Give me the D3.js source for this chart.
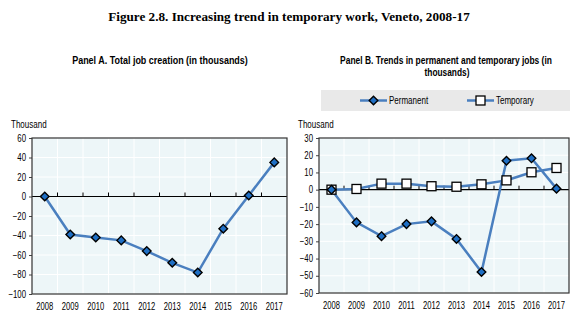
<!DOCTYPE html>
<meta charset="utf-8">
<script src="https://d3js.org/d3.v7.min.js"></script>
<style>
  body { margin: 0; background: #fff; }
  text { font-family: "Liberation Sans", Arial, sans-serif; fill: #000; }
</style>
<div id="chart"></div>
<script>

// years on the x axis
var years = ["2008", "2009", "2010", "2011", "2012", "2013", "2014", "2015", "2016", "2017"];

// Panel A: total job creation, thousands
var totalJobs = [0, -39, -42, -45, -56, -68, -78, -33, 1, 35];

// Panel B: permanent and temporary jobs, thousands
var permanent = [0, -19, -27, -20, -18.4, -28.6, -47.8, 16.8, 18.2, 0.6];
var temporary = [0, 0.4, 3.5, 3.5, 2, 1.7, 3.1, 5.4, 10.1, 12.6];

var ticksA = [60, 40, 20, 0, -20, -40, -60, -80, -100];
var ticksB = [30, 20, 10, 0, -10, -20, -30, -40, -50, -60];

var lineColor = "#4a7fbf",
    diamondFill = "#1f6fc4",
    plotFill = "#edf6f8";

var svg = d3.select("#chart")
  .append("svg")
    .attr("width", 588)
    .attr("height", 323);

// squeeze text horizontally, like a narrow font
function narrow(sel, k) {
  sel.each(function() {
    var w = this.getComputedTextLength();
    d3.select(this)
      .attr("textLength", w * (k || 0.8))
      .attr("lengthAdjust", "spacingAndGlyphs");
  });
}

// centred bold title, scaled horizontally to the given width
function title(x, y, width, size, txt) {
  var g = svg.append("g");
  var t = g.append("text")
    .attr("text-anchor", "middle")
    .style("font-weight", "bold")
    .style("font-size", size + "px")
    .text(txt);
  return {g: g, t: t, fit: function() {
    var k = width / t.node().getComputedTextLength();
    g.attr("transform", "translate(" + x + "," + y + ") scale(" + k + ",1)");
  }};
}

// main title
var main = title(289, 21, 362, 13.5, "Figure 2.8. Increasing trend in temporary work, Veneto, 2008-17");
main.t.style("font-family", "'Liberation Serif', 'Times New Roman', serif");
main.fit();

// panel titles
title(160, 64, 176, 11, "Panel A. Total job creation (in thousands)").fit();
title(446, 64, 212, 11, "Panel B. Trends in permanent and temporary jobs (in").fit();
title(447, 76, 45, 11, "thousands)").fit();

function diamond(g, cx, cy) {
  var r = 4.3;
  g.append("path")
    .attr("d", "M0," + (-r) + "L" + r + ",0L0," + r + "L" + (-r) + ",0Z")
    .attr("transform", "translate(" + cx + "," + cy + ")")
    .attr("fill", diamondFill)
    .attr("stroke", "#000")
    .attr("stroke-width", 1.4);
}

function square(g, cx, cy) {
  g.append("rect")
    .attr("x", cx - 4.5).attr("y", cy - 4.5)
    .attr("width", 9).attr("height", 9)
    .attr("fill", "#fff")
    .attr("stroke", "#000")
    .attr("stroke-width", 1.3);
}

// one panel: frame, grid, axes and the given series
function panel(box, ticks, series) {
  var g = svg.append("g");

  var x = d3.scaleBand()
    .domain(years)
    .range([box.left, box.right]);

  var y = d3.scaleLinear()
    .domain([ticks[ticks.length - 1], ticks[0]])
    .range([box.bottom, box.top]);

  g.append("rect")
    .attr("x", box.left).attr("y", box.top)
    .attr("width", box.right - box.left)
    .attr("height", box.bottom - box.top)
    .attr("fill", plotFill);

  // white grid
  g.selectAll(".hgrid")
    .data(ticks)
    .enter().append("line")
      .attr("x1", box.left).attr("x2", box.right)
      .attr("y1", function(d) { return y(d); })
      .attr("y2", function(d) { return y(d); })
      .attr("stroke", "#fff");

  g.selectAll(".vgrid")
    .data(years.slice(1))
    .enter().append("line")
      .attr("x1", function(d) { return x(d); })
      .attr("x2", function(d) { return x(d); })
      .attr("y1", box.top).attr("y2", box.bottom)
      .attr("stroke", "#fff");

  // y axis
  var yAxis = g.append("g")
    .attr("transform", "translate(" + box.left + ",0)")
    .call(d3.axisLeft(y).tickValues(ticks).tickSize(3).tickPadding(3));
  yAxis.select(".domain").remove();
  yAxis.selectAll("line").attr("stroke", "#444");
  yAxis.selectAll("text")
    .style("font-size", "10px")
    .style("font-family", "'Liberation Sans', Arial, sans-serif")
    .attr("fill", "#000")
    .call(narrow, 0.78);

  // x labels
  var xAxis = g.append("g")
    .attr("transform", "translate(0," + box.bottom + ")")
    .call(d3.axisBottom(x).tickSize(0).tickPadding(9));
  xAxis.select(".domain").remove();
  xAxis.selectAll("text")
    .style("font-size", "10px")
    .style("font-family", "'Liberation Sans', Arial, sans-serif")
    .attr("fill", "#000")
    .call(narrow, 0.76);

  // zero line with ticks at band edges
  g.append("line")
    .attr("x1", box.left).attr("x2", box.right)
    .attr("y1", y(0)).attr("y2", y(0))
    .attr("stroke", "#000")
    .attr("stroke-width", 1.2);

  g.selectAll(".ztick")
    .data(years.slice(1))
    .enter().append("line")
      .attr("x1", function(d) { return x(d); })
      .attr("x2", function(d) { return x(d); })
      .attr("y1", y(0)).attr("y2", y(0) - 4)
      .attr("stroke", "#000");

  // frame
  g.append("rect")
    .attr("x", box.left).attr("y", box.top)
    .attr("width", box.right - box.left)
    .attr("height", box.bottom - box.top)
    .attr("fill", "none")
    .attr("stroke", "#333")
    .attr("stroke-width", 1.2);

  g.append("text")
    .attr("x", box.left - 21).attr("y", box.top - 10)
    .style("font-size", "10px")
    .text("Thousand")
    .call(narrow, 0.8);

  var line = d3.line()
    .x(function(d, i) { return x(years[i]) + x.bandwidth() / 2; })
    .y(function(d) { return y(d); });

  series.forEach(function(s) {
    g.append("path")
      .datum(s.values)
      .attr("d", line)
      .attr("fill", "none")
      .attr("stroke", lineColor)
      .attr("stroke-width", 2.5);
  });

  series.forEach(function(s) {
    s.values.forEach(function(v, i) {
      s.marker(g, x(years[i]) + x.bandwidth() / 2, y(v));
    });
  });
}

panel({left: 32, right: 287, top: 138, bottom: 294}, ticksA,
  [{values: totalJobs, marker: diamond}]);

panel({left: 319, right: 569, top: 138, bottom: 293}, ticksB,
  [{values: temporary, marker: square}, {values: permanent, marker: diamond}]);

// legend for panel B
var legend = svg.append("g");
legend.append("rect")
  .attr("x", 321).attr("y", 90)
  .attr("width", 249).attr("height", 21)
  .attr("fill", "#e9e9e9");

var legendItems = [
  {name: "Permanent", x1: 360, marker: diamond},
  {name: "Temporary", x1: 467, marker: square}
];

legendItems.forEach(function(d) {
  legend.append("line")
    .attr("x1", d.x1).attr("x2", d.x1 + 27)
    .attr("y1", 100.5).attr("y2", 100.5)
    .attr("stroke", lineColor)
    .attr("stroke-width", 2.5);
  d.marker(legend, d.x1 + 13.5, 100.5);
  legend.append("text")
    .attr("x", d.x1 + 29).attr("y", 104)
    .style("font-size", "10px")
    .text(d.name)
    .call(narrow, 0.8);
});

</script>
